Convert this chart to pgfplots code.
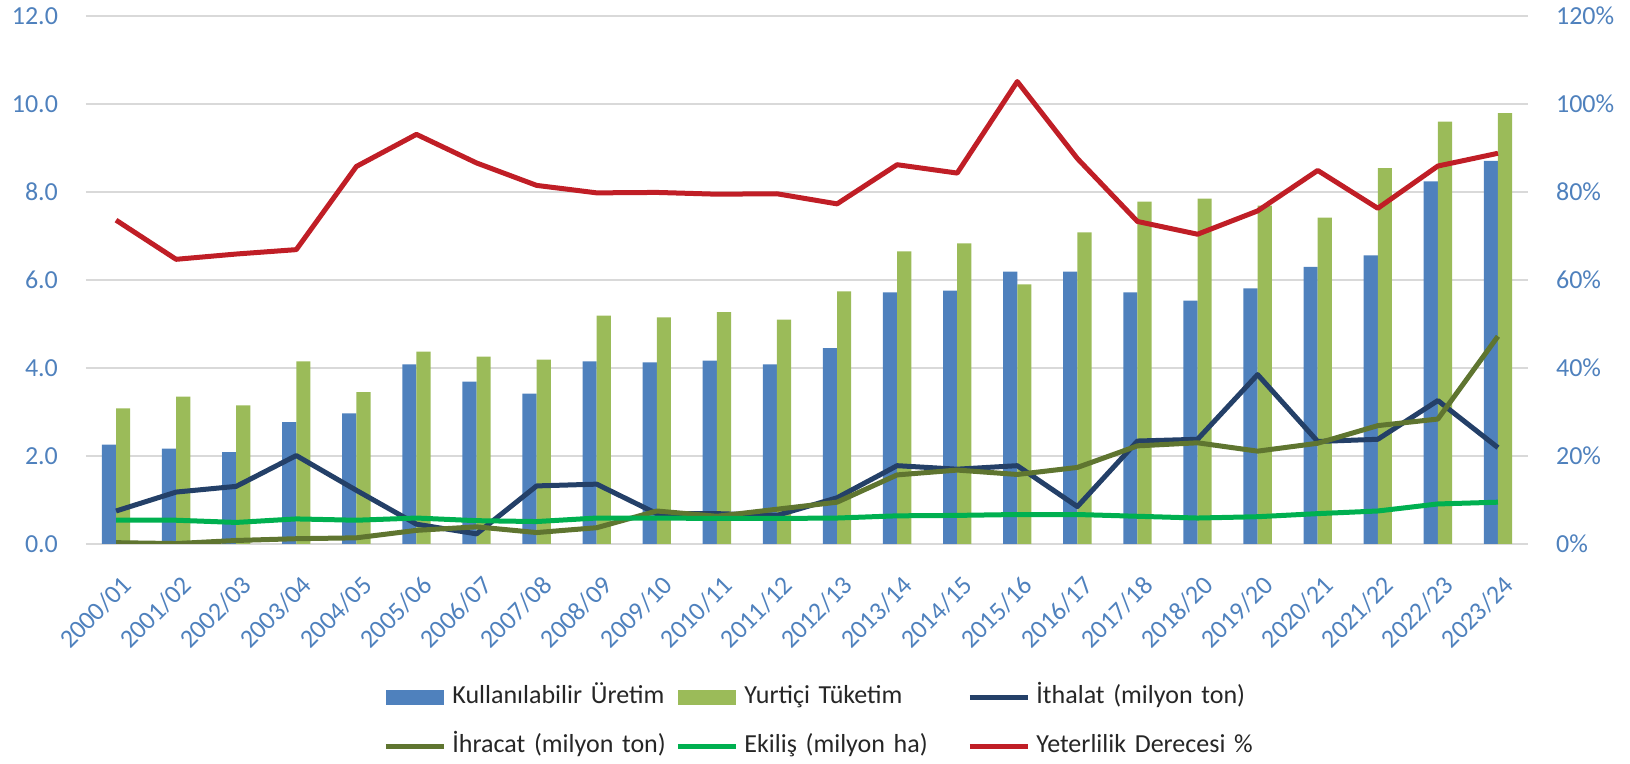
\documentclass[border=0pt]{standalone}
\usepackage{pgfplots}
\pgfplotsset{compat=1.18}
\usepackage{pgfplotstable}
\usepackage{fontspec}
\setmainfont{Carlito}
\definecolor{cblue}{RGB}{79,129,189}
\definecolor{cgreen}{RGB}{155,187,89}
\definecolor{cnavy}{RGB}{36,64,104}
\definecolor{colive}{RGB}{95,117,48}
\definecolor{cbright}{RGB}{0,176,80}
\definecolor{cred}{RGB}{192,30,38}
\definecolor{ctick}{RGB}{79,129,189}
\definecolor{cgrid}{RGB}{217,217,217}
\definecolor{ctext}{RGB}{38,38,38}
\pgfplotstableread{
i prod cons imp exp area self
0 2.26 3.08 0.75 0.03 0.54 73.6
1 2.17 3.35 1.18 0.01 0.54 64.7
2 2.09 3.15 1.31 0.08 0.49 65.9
3 2.77 4.15 2.01 0.12 0.57 66.9
4 2.97 3.45 1.22 0.14 0.54 85.8
5 4.08 4.37 0.45 0.31 0.59 93.1
6 3.69 4.26 0.23 0.39 0.53 86.6
7 3.42 4.19 1.32 0.26 0.51 81.5
8 4.15 5.19 1.36 0.37 0.59 79.8
9 4.13 5.15 0.69 0.75 0.59 79.9
10 4.17 5.27 0.69 0.63 0.58 79.5
11 4.08 5.10 0.65 0.79 0.58 79.6
12 4.45 5.74 1.05 0.95 0.59 77.3
13 5.72 6.65 1.78 1.57 0.64 86.2
14 5.76 6.83 1.70 1.68 0.65 84.3
15 6.19 5.90 1.78 1.58 0.67 105.1
16 6.19 7.08 0.85 1.74 0.67 87.6
17 5.72 7.78 2.34 2.23 0.63 73.3
18 5.53 7.85 2.38 2.30 0.59 70.4
19 5.81 7.69 3.85 2.11 0.62 75.7
20 6.30 7.42 2.33 2.29 0.69 84.9
21 6.56 8.54 2.38 2.69 0.75 76.3
22 8.24 9.60 3.26 2.84 0.91 85.9
23 8.71 9.79 2.19 4.72 0.95 88.8
}\data
\begin{document}
\begin{tikzpicture}
\useasboundingbox (-43pt,-110pt) rectangle (772pt,272pt);
\pgfplotsset{
  common/.style={
    at={(0,0)}, anchor=south west, scale only axis,
    width=721pt, height=264pt, xmin=-0.5, xmax=23.5,
    major tick length=0pt, axis line style={draw=none},
    /pgf/number format/assume math mode=true,
  },
  barleg/.style={legend image code/.code={\fill[##1] (0pt,-3.75pt) rectangle (29pt,3.75pt);}},
  lineleg/.style={legend image code/.code={\draw[##1] (0pt,0pt) -- (29pt,0pt);}},
}
\begin{axis}[common,
  ymin=0, ymax=12, ytick={0,2,...,12},
  ymajorgrids, grid style={cgrid, line width=1pt},
  yticklabel style={/pgf/number format/fixed, /pgf/number format/fixed zerofill, /pgf/number format/precision=1,
    text=ctick, font=\fontsize{13}{15.6}\selectfont, xshift=-10.5pt},
  xtick={0,...,23},
  xticklabels={2000/01,2001/02,2002/03,2003/04,2004/05,2005/06,2006/07,2007/08,2008/09,2009/10,2010/11,2011/12,2012/13,2013/14,2014/15,2015/16,2016/17,2017/18,2018/20,2019/20,2020/21,2021/22,2022/23,2023/24},
  xticklabel style={xshift=8pt, yshift=-16pt, rotate=45, anchor=east, text=ctick, font=\fontsize{13}{15.6}\selectfont},
  legend columns=3,
  legend cell align=left,
  legend style={at={(0.206,-0.266)}, anchor=north west, draw=none, fill=none, inner sep=0pt,
    font=\fontsize{13}{15.6}\selectfont, text=ctext,
    nodes={text width=108.5pt, align=left, inner xsep=3pt, inner ysep=0pt, text height=9.5pt, text depth=3pt},
    row sep=12pt,
    /tikz/every odd column/.append style={column sep=0pt},
    /tikz/every even column/.append style={column sep=0pt}},
]
\addplot[ybar, bar width=7.1pt, bar shift=-3.55pt, fill=cblue, draw=none, barleg] table[x=i,y=prod]{\data};
\addlegendentry{Kullanılabilir Üretim}
\addplot[ybar, bar width=7.1pt, bar shift=3.55pt, fill=cgreen, draw=none, barleg] table[x=i,y=cons]{\data};
\addlegendentry{Yurtiçi Tüketim}
\addplot[cnavy, line width=2.5pt, line join=round, mark=none, lineleg] table[x=i,y=imp]{\data};
\addlegendentry{İthalat (milyon ton)}
\addplot[colive, line width=2.5pt, line join=round, mark=none, lineleg] table[x=i,y=exp]{\data};
\addlegendentry{İhracat (milyon ton)}
\addplot[cbright, line width=2.5pt, line join=round, mark=none, lineleg] table[x=i,y=area]{\data};
\addlegendentry{Ekiliş (milyon ha)}
\addlegendimage{cred, line width=2.5pt, lineleg}
\addlegendentry{Yeterlilik Derecesi \%}
\end{axis}
\begin{axis}[common,
  ymin=0, ymax=120, ytick={0,20,...,120},
  axis y line*=right, axis x line=none,
  yticklabel={\pgfmathprintnumber{\tick}\%},
  yticklabel style={anchor=west, text=ctick, font=\fontsize{13}{15.6}\selectfont, xshift=10.5pt},
]
\addplot[cred, line width=2.5pt, line join=round, mark=none] table[x=i,y=self]{\data};
\end{axis}
\end{tikzpicture}
\end{document}
